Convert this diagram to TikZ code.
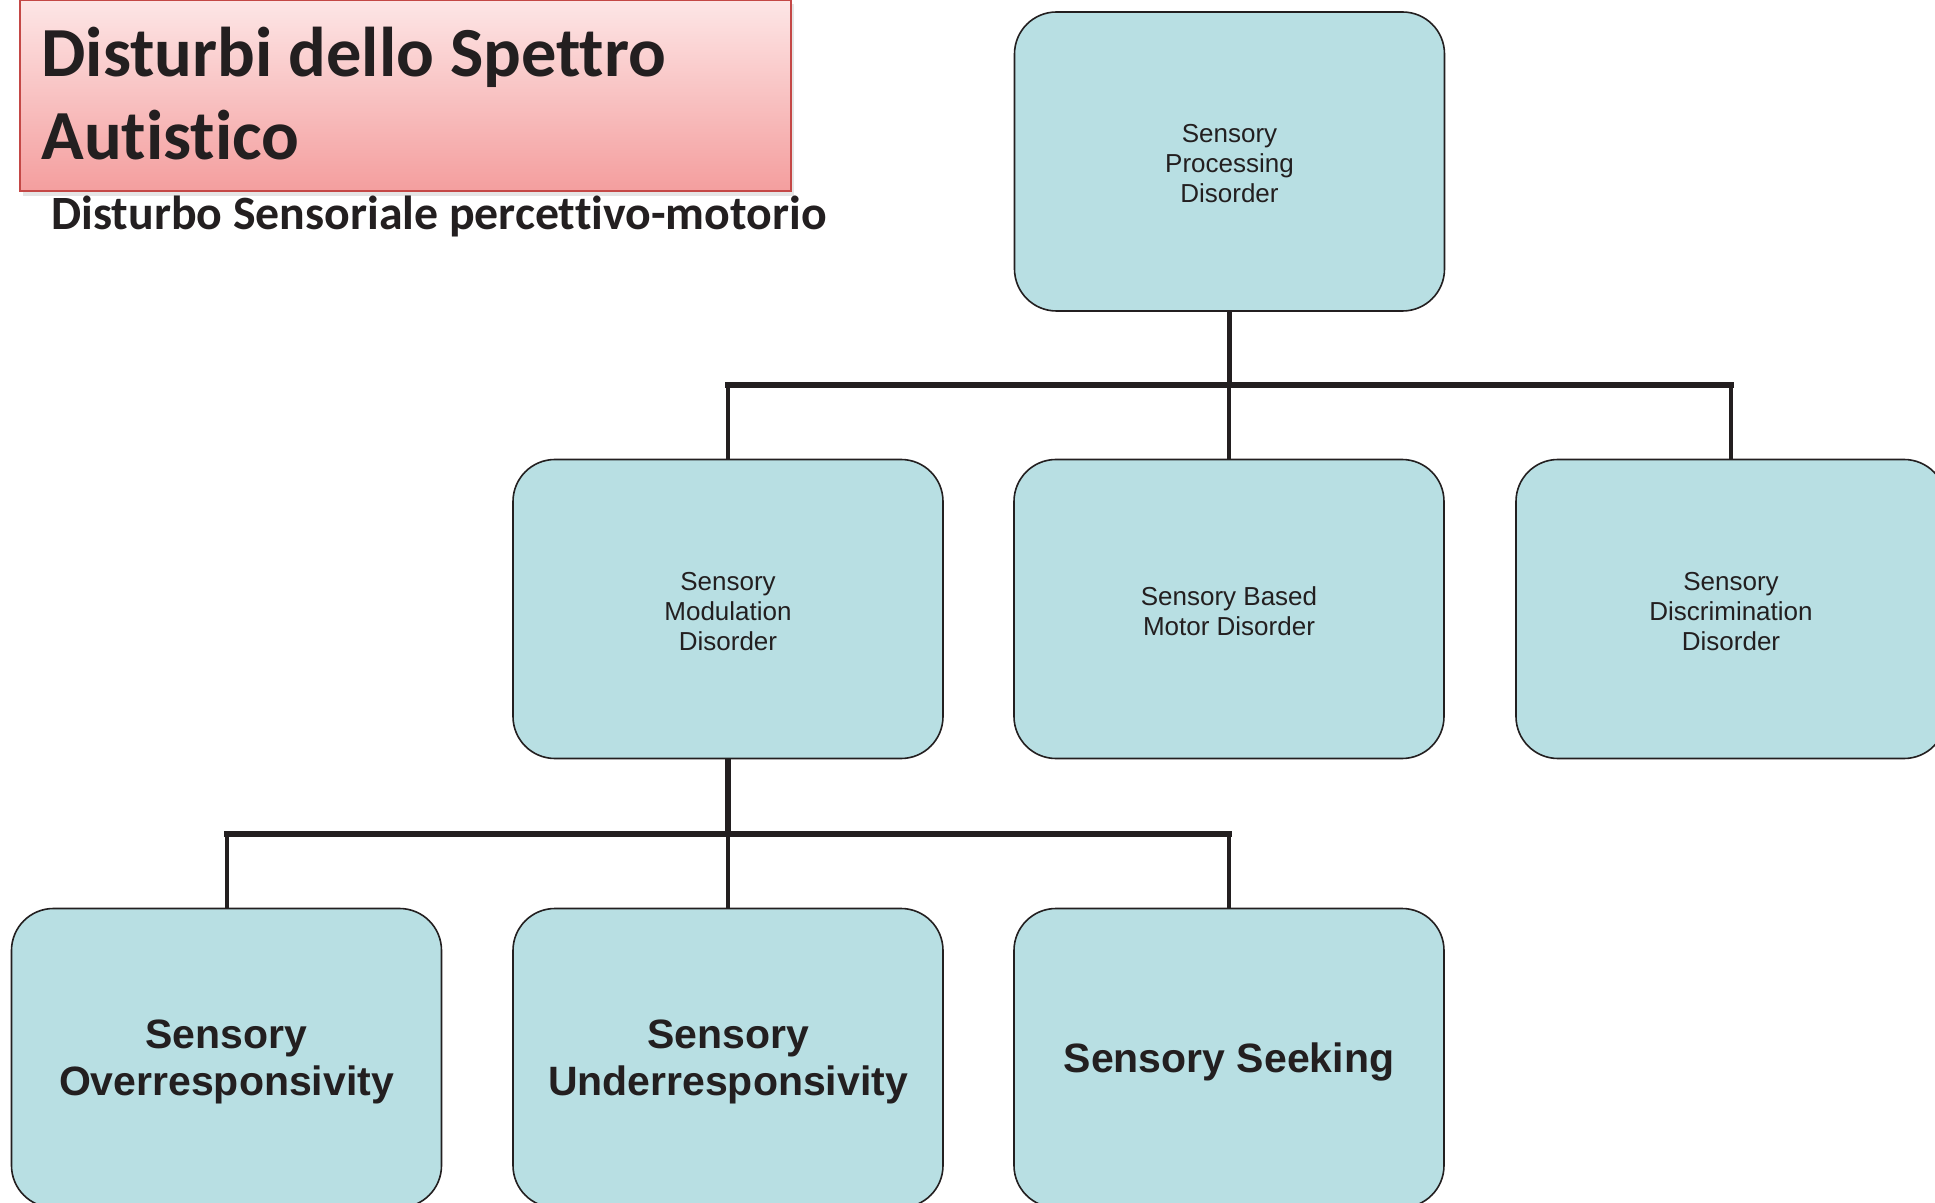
\documentclass[tikz,border=0pt]{standalone}
\usepackage{fontspec}
\setmainfont{Liberation Sans}
\newfontfamily\titlefont[Ligatures={NoCommon,NoContextual}]{Carlito}
\definecolor{boxfill}{RGB}{184,223,227}
\definecolor{ink}{RGB}{35,31,32}
\definecolor{titletop}{RGB}{253,230,230}
\definecolor{titlebot}{RGB}{244,158,158}
\definecolor{titleedge}{RGB}{196,72,70}
\newcommand{\topstrut}[1]{\rule{0pt}{#1}}
\begin{document}
\begin{tikzpicture}[x=0.5pt,y=-0.5pt,
  box/.style={draw=ink, line width=0.8pt, fill=boxfill, rounded corners=21pt,
    minimum width=215pt, minimum height=149.5pt, inner sep=0pt, align=center,
    text=ink, font=\fontsize{13}{15}\selectfont},
  bigbox/.style={box, font=\fontsize{20.5}{23.5}\selectfont\bfseries},
  conn/.style={draw=ink, line width=2pt},
  bus/.style={draw=ink, line width=2.8pt, line cap=rect},
  stem/.style={draw=ink, line width=2.6pt},
  titletext/.style={anchor=base west, inner sep=0pt, text=ink, font=\titlefont\bfseries\fontsize{35.2}{40}\selectfont}]
\useasboundingbox (0,0) rectangle (1935,1203);
\fill[white] (0,0) rectangle (1935,1203);
\begin{scope}
\clip (0,0) rectangle (1935,1203);
% title box
\fill[black!20, opacity=0.5] (23,4) rectangle (794,196);
\node[draw=titleedge, line width=1pt, top color=titletop, bottom color=titlebot,
  minimum width=385.5pt, minimum height=95.5pt, inner sep=0pt] (title) at (405.5,95.5) {};
\node[titletext] (t1) at (41,77) {Disturbi dello Spettro};
\node[titletext] (t2) at (41,160) {Autistico};
\node[anchor=base west, inner sep=0pt, text=ink, font=\titlefont\bfseries\fontsize{23.9}{28}\selectfont] (sub) at (51,230) {Disturbo Sensoriale percettivo-motorio};
% boxes
\node[box] (spd) at (1229.5,161.5) {\topstrut{11.5pt}Sensory\\Processing\\Disorder};
\node[box] (smd) at (728,609) {\topstrut{12pt}Sensory\\Modulation\\Disorder};
\node[box] (sbmd) at (1229,609) {\topstrut{12pt}Sensory Based\\Motor Disorder};
\node[box] (sdd) at (1731,609) {\topstrut{12pt}Sensory\\Discrimination\\Disorder};
\node[bigbox] (sor) at (226.5,1058) {\topstrut{18.7pt}Sensory\\Overresponsivity};
\node[bigbox] (sur) at (728,1058) {\topstrut{18.7pt}Sensory\\Underresponsivity};
\node[bigbox] (ss) at (1229,1058) {\topstrut{18.7pt}Sensory Seeking};
% connectors
\coordinate (b1) at (1230,385);
\coordinate (b2) at (728,834);
\draw[stem] (spd.south) -- (spd.south |- b1);
\draw[bus] (smd.north |- b1) -- (sdd.north |- b1);
\draw[conn] (smd.north |- b1) -- (smd.north);
\draw[conn] (sbmd.north |- b1) -- (sbmd.north);
\draw[conn] (sdd.north |- b1) -- (sdd.north);
\draw[stem] (smd.south) -- (smd.south |- b2);
\draw[bus] (sor.north |- b2) -- (ss.north |- b2);
\draw[conn] (sor.north |- b2) -- (sor.north);
\draw[conn] (sur.north |- b2) -- (sur.north);
\draw[conn] (ss.north |- b2) -- (ss.north);
\end{scope}
\end{tikzpicture}
\end{document}
